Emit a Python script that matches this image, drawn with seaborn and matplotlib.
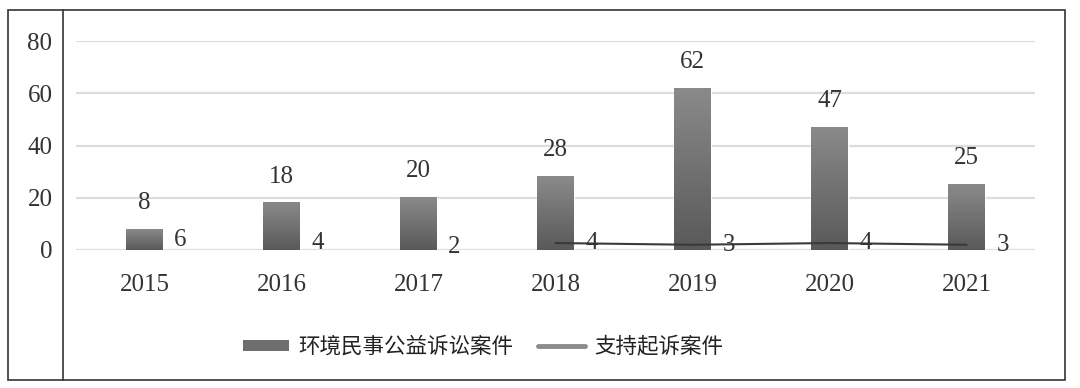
import numpy as np
import pandas as pd
import matplotlib
matplotlib.use('Agg')
import matplotlib.pyplot as plt
import seaborn as sns
from matplotlib.patches import Patch, Rectangle
from matplotlib.lines import Line2D
from matplotlib.colors import LinearSegmentedColormap

# ---- data ----
years = ['2015', '2016', '2017', '2018', '2019', '2020', '2021']
civil_cases = [8, 18, 20, 28, 62, 47, 25]
support_cases = [6, 4, 2, 4, 3, 4, 3]
line_start = 3  # the support line is drawn from 2018 onward
y_ticks = [0, 20, 40, 60, 80]
series_names = ['环境民事公益诉讼案件', '支持起诉案件']

sns.set_theme(style='white')
plt.rcParams['font.family'] = ['Liberation Serif', 'Noto Sans CJK SC', 'DejaVu Sans']

W, H = 1080, 388
fig = plt.figure(figsize=(W / 100, H / 100), dpi=100)
ax = fig.add_axes([76 / W, 1 - 250 / H, (1035 - 76) / W, (250 - 41) / H])

df = pd.DataFrame({'year': years, 'cases': civil_cases})
sns.barplot(data=df, x='year', y='cases', ax=ax, width=0.27, color='#6e6e6e',
            saturation=1, zorder=2)
ax.set_xlim(-0.5, len(years) - 0.5)
ax.set_ylim(0, 80)
ax.set_yticks(y_ticks)
ax.grid(axis='y', color='#dddddd', lw=1.6)
ax.grid(axis='x', visible=False)
ax.set_axisbelow(True)
ax.tick_params(length=0, labelsize=18, colors='#333333')
ax.tick_params(axis='y', pad=17)
ax.tick_params(axis='x', pad=17)
ax.set_xlabel('')
ax.set_ylabel('')
sns.despine(ax=ax, left=True, bottom=True)

# gradient fill on bars + value labels
cmap = LinearSegmentedColormap.from_list('g', ['#595959', '#8a8a8a'])
grad = np.linspace(0, 1, 256).reshape(-1, 1)
for p, v in zip(list(ax.patches), civil_cases):
    x0, y0, w, h = p.get_x(), p.get_y(), p.get_width(), p.get_height()
    p.set_facecolor('none')
    ax.imshow(grad, extent=[x0, x0 + w, y0, y0 + h], origin='lower', cmap=cmap,
              aspect='auto', zorder=2.1, interpolation='bilinear')
    ax.annotate(str(v), xy=(x0 + w / 2, y0 + h), xytext=(0, 19),
                textcoords='offset points', ha='center', va='center',
                fontsize=18, color='#333333')
ax.set_xlim(-0.5, len(years) - 0.5)
ax.set_ylim(0, 80)

# support series on a hidden secondary axis
ax2 = ax.twinx()
pos = list(range(len(years)))
sns.lineplot(x=pos[line_start:], y=support_cases[line_start:], ax=ax2,
             color='#3a3a3a', lw=1.5)
ax2.set_ylim(0, 120)
ax2.set_xlim(-0.5, len(years) - 0.5)
for i, v in enumerate(support_cases):
    ax2.annotate(str(v), xy=(i, v), xytext=(26, 0), textcoords='offset points',
                 ha='center', va='center', fontsize=18, color='#333333')
ax2.axis('off')

# legend
handles = [Patch(facecolor='#6e6e6e', edgecolor='none'),
           Line2D([], [], color='#8c8c8c', lw=3.5)]
fig.legend(handles=handles, labels=series_names, loc='center',
           bbox_to_anchor=(483 / W, 1 - 347 / H), ncol=2, frameon=False,
           prop={'family': 'Noto Sans CJK SC', 'size': 15.5},
           handlelength=2.15, handleheight=0.45, handletextpad=0.45,
           columnspacing=1.15, labelcolor='#222222')

# outer frame and inner divider
fig.add_artist(Rectangle((8 / W, 1 - 380 / H), (1065 - 8) / W, (380 - 10) / H,
                         transform=fig.transFigure, fill=False, ec='#333333', lw=1.2))
fig.add_artist(Line2D([63 / W, 63 / W], [1 - 380 / H, 1 - 10 / H],
                      transform=fig.transFigure, color='#333333', lw=1.2))

fig.savefig('out.png', dpi=100)
